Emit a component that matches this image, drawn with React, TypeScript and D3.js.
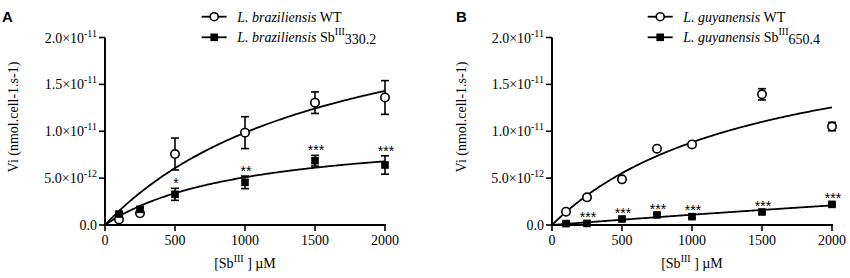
import React from 'react';
import * as d3 from 'd3';

// concentrations (µM)
const concA = [100, 250, 500, 1000, 1500, 2000];
const concB = [100, 250, 500, 750, 1000, 1500, 2000];

// values in units of 1e-12 nmol.cell-1.s-1
const wtA = [0.6, 1.25, 7.57, 9.85, 13.05, 13.6];
const wtAsd = [0.2, 0.2, 1.7, 1.7, 1.15, 1.8];
const mutA = [1.17, 1.67, 3.27, 4.55, 6.86, 6.4];
const mutAsd = [0.2, 0.2, 0.64, 0.67, 0.57, 0.98];
const starsA = ['', '', '*', '**', '***', '***'];

const wtB = [1.42, 2.95, 4.87, 8.14, 8.6, 13.94, 10.5];
const wtBsd = [0.15, 0.15, 0.15, 0.15, 0.15, 0.6, 0.45];
const mutB = [0.15, 0.17, 0.64, 1.07, 0.89, 1.39, 2.2];
const mutBsd = [0.15, 0.15, 0.15, 0.15, 0.15, 0.15, 0.15];
const starsB = ['', '***', '***', '***', '***', '***', '***'];

// Michaelis-Menten fit parameters [Vmax (1e-12), Km (µM)]
const fitWtA = [26.1, 1650];
const fitMutA = [10.2, 1003];
const fitWtB = [21.75, 1466];
const fitMutB = [23, 20000];

const xTicks = [0, 500, 1000, 1500, 2000];
const yTicks = [0, 5, 10, 15, 20];
const yTickMant = ['0.0', '5.0', '1.0', '1.5', '2.0'];
const yTickExp = ['', '-12', '-11', '-11', '-11'];

const serif = '"Liberation Serif", "Times New Roman", serif';
const sans = '"Liberation Sans", Arial, sans-serif';

type PanelProps = {
  letter: string;
  letterX: number;
  x0: number;
  species: string;
  mutLabel: string;
  legendX: number;
  conc: number[];
  wt: number[];
  wtSd: number[];
  mut: number[];
  mutSd: number[];
  stars: string[];
  fitWt: number[];
  fitMut: number[];
  titleX: number;
};

function Panel(p: PanelProps) {
  const x = d3.scaleLinear().domain([0, 2000]).range([p.x0, p.x0 + 280]);
  const y = d3.scaleLinear().domain([0, 20]).range([225, 37.5]);
  const mm = (f: number[]) => (c: number) => (f[0] * c) / (f[1] + c);
  const grid = d3.range(0, 2001, 10);
  const line = d3
    .line<number>()
    .x((c) => x(c))
    .curve(d3.curveLinear);
  const pathFor = (f: number[]) =>
    line.y((c) => y(mm(f)(c)))(grid) as string;
  const cap = 4;
  const errBars = (vals: number[], sds: number[], key: string) =>
    p.conc.map((c, i) => {
      const cx = x(c);
      const t = y(vals[i] + sds[i]);
      const b = y(vals[i] - sds[i]);
      return (
        <g key={key + i} stroke="#000" strokeWidth={1.6}>
          <line x1={cx} x2={cx} y1={t} y2={b} />
          <line x1={cx - cap} x2={cx + cap} y1={t} y2={t} />
          <line x1={cx - cap} x2={cx + cap} y1={b} y2={b} />
        </g>
      );
    });
  const axisY = y(0);
  const cX = (p.x0 + p.x0 + 280) / 2;
  return (
    <g>
      <text x={p.letterX} y={22} fontFamily={sans} fontWeight="bold" fontSize={15} fill="#000">
        {p.letter}
      </text>
      {/* fits */}
      <path d={pathFor(p.fitWt)} fill="none" stroke="#000" strokeWidth={1.8} />
      <path d={pathFor(p.fitMut)} fill="none" stroke="#000" strokeWidth={1.8} />
      {errBars(p.wt, p.wtSd, 'ew')}
      {errBars(p.mut, p.mutSd, 'em')}
      {p.conc.map((c, i) => (
        <circle key={'w' + i} cx={x(c)} cy={y(p.wt[i])} r={4.2} fill="#fff" stroke="#000" strokeWidth={1.6} />
      ))}
      {p.conc.map((c, i) => (
        <rect key={'m' + i} x={x(c) - 3.8} y={y(p.mut[i]) - 3.8} width={7.6} height={7.6} fill="#000" />
      ))}
      {p.conc.map((c, i) =>
        p.stars[i] ? (
          <text
            key={'s' + i}
            x={x(c) + 1}
            y={y(p.mut[i] + p.mutSd[i])}
            textAnchor="middle"
            fontFamily={sans}
            fontSize={14}
            fill="#000"
            style={{ fontVariantEmoji: 'text' } as any}
          >
            {p.stars[i]}
          </text>
        ) : null
      )}
      {/* axes */}
      <line x1={p.x0} x2={p.x0} y1={y(20)} y2={axisY + 1} stroke="#000" strokeWidth={2} />
      <line x1={p.x0 - 1} x2={x(2000) + 1} y1={axisY} y2={axisY} stroke="#000" strokeWidth={2} />
      {yTicks.map((t, i) => (
        <g key={'yt' + i}>
          <line x1={p.x0 - 6} x2={p.x0} y1={y(t)} y2={y(t)} stroke="#000" strokeWidth={1.6} />
          <text x={p.x0 - 8} y={y(t) + 5} textAnchor="end" fontFamily={serif} fontSize={14} fill="#000">
            {yTickMant[i]}
            {yTickExp[i] ? '×10' : ''}
            {yTickExp[i] ? (
              <tspan fontSize={10} dy={-6}>
                {yTickExp[i]}
              </tspan>
            ) : null}
          </text>
        </g>
      ))}
      {xTicks.map((t, i) => (
        <g key={'xt' + i}>
          <line x1={x(t)} x2={x(t)} y1={axisY} y2={axisY + 6} stroke="#000" strokeWidth={1.6} />
          <text x={x(t)} y={axisY + 20} textAnchor="middle" fontFamily={serif} fontSize={14} fill="#000">
            {t}
          </text>
        </g>
      ))}
      {/* axis titles */}
      <text x={cX} y={268} textAnchor="middle" fontFamily={serif} fontSize={14} fill="#000">
        [Sb
        <tspan fontSize={10} dy={-6}>III</tspan>
        <tspan dy={6}> ] µM</tspan>
      </text>
      <text
        transform={`translate(${p.titleX},117) rotate(-90)`}
        textAnchor="middle"
        fontFamily={serif}
        fontSize={14}
        fill="#000"
      >
        Vi (nmol.cell-1.s-1)
      </text>
      {/* legend */}
      <g>
        <line x1={p.legendX} x2={p.legendX + 25} y1={16.7} y2={16.7} stroke="#000" strokeWidth={1.8} />
        <circle cx={p.legendX + 12.5} cy={16.7} r={4} fill="#fff" stroke="#000" strokeWidth={1.6} />
        <text x={p.legendX + 35.5} y={21.5} fontFamily={serif} fontSize={14} fill="#000">
          <tspan fontStyle="italic">{p.species}</tspan> WT
        </text>
        <line x1={p.legendX} x2={p.legendX + 25} y1={37.3} y2={37.3} stroke="#000" strokeWidth={1.8} />
        <rect x={p.legendX + 12.5 - 3.8} y={37.3 - 3.8} width={7.6} height={7.6} fill="#000" />
        <text x={p.legendX + 35.5} y={42} fontFamily={serif} fontSize={14} fill="#000">
          <tspan fontStyle="italic">{p.species}</tspan> Sb
          <tspan fontSize={10} dy={-7}>III</tspan>
          <tspan dy={9}>{p.mutLabel}</tspan>
        </text>
      </g>
    </g>
  );
}

export default function App() {
  return (
    <svg width={850} height={278} style={{ position: 'absolute', left: 0, top: 0, background: '#fff' }}>
      <rect width={850} height={278} fill="#fff" />
      <Panel
        letter="A"
        letterX={2}
        x0={105}
        species="L. braziliensis"
        mutLabel="330.2"
        legendX={201.7}
        conc={concA}
        wt={wtA}
        wtSd={wtAsd}
        mut={mutA}
        mutSd={mutAsd}
        stars={starsA}
        fitWt={fitWtA}
        fitMut={fitMutA}
        titleX={18}
      />
      <Panel
        letter="B"
        letterX={456}
        x0={552}
        species="L. guyanensis"
        mutLabel="650.4"
        legendX={647.7}
        conc={concB}
        wt={wtB}
        wtSd={wtBsd}
        mut={mutB}
        mutSd={mutBsd}
        stars={starsB}
        fitWt={fitWtB}
        fitMut={fitMutB}
        titleX={466}
      />
    </svg>
  );
}
